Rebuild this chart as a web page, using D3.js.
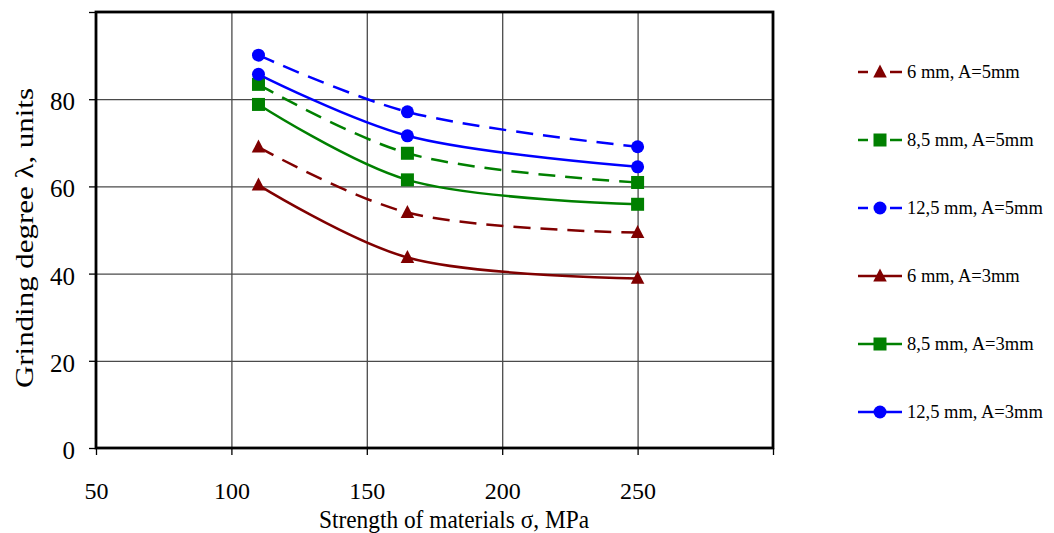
<!DOCTYPE html>
<html>
<head>
<meta charset="utf-8">
<script src="https://cdn.jsdelivr.net/npm/d3@7"></script>
<style>
  body { margin: 0; background: #fff; }
  svg text { font-family: "Liberation Serif", "Times New Roman", serif; fill: #000; }
</style>
</head>
<body>
<div id="chart"></div>
<script>
// Data
let strength = [110, 165, 250];
let seriesNames = ["6 mm, A=5mm", "8,5 mm, A=5mm", "12,5 mm, A=5mm",
                   "6 mm, A=3mm", "8,5 mm, A=3mm", "12,5 mm, A=3mm"];
let red5 = [69.0, 54.0, 49.4];
let green5 = [83.4, 67.6, 60.9];
let blue5 = [90.1, 77.1, 69.1];
let red3 = [60.3, 43.7, 38.9];
let green3 = [78.8, 61.5, 55.9];
let blue3 = [85.7, 71.6, 64.5];
let xTicks = [50, 100, 150, 200, 250];
let yTicks = [0, 20, 40, 60, 80];

// Svg defs
let w = 1054, h = 533;
let m = {left: 96, right: 281, top: 12, bottom: 85};

let series = [
  {name: seriesNames[0], values: red5,   color: "#800000", shape: "tri",    dash: true},
  {name: seriesNames[1], values: green5, color: "#008000", shape: "square", dash: true},
  {name: seriesNames[2], values: blue5,  color: "#0000ff", shape: "circle", dash: true},
  {name: seriesNames[3], values: red3,   color: "#800000", shape: "tri",    dash: false},
  {name: seriesNames[4], values: green3, color: "#008000", shape: "square", dash: false},
  {name: seriesNames[5], values: blue3,  color: "#0000ff", shape: "circle", dash: false}
];

let x = d3.scaleLinear().domain([50, 300]).range([m.left, w - m.right]);
let y = d3.scaleLinear().domain([0, 100]).range([h - m.bottom, m.top]);

let svg = d3.select("#chart").append("svg")
  .attr("width", w).attr("height", h)
  .attr("viewBox", [0, 0, w, h]);

// Grid
svg.append("g")
  .attr("transform", `translate(0,${h - m.bottom})`)
  .call(d3.axisBottom(x).tickValues(xTicks.slice(1)).tickSize(-(h - m.top - m.bottom)).tickFormat(""))
  .call(g => g.select(".domain").remove())
  .call(g => g.selectAll("line").attr("stroke", "#4a4a4a").attr("stroke-width", 1.3));

svg.append("g")
  .attr("transform", `translate(${m.left},0)`)
  .call(d3.axisLeft(y).tickValues(yTicks.slice(1)).tickSize(-(w - m.left - m.right)).tickFormat(""))
  .call(g => g.select(".domain").remove())
  .call(g => g.selectAll("line").attr("stroke", "#4a4a4a").attr("stroke-width", 1.3));

// Axes with labels
let yAxis = svg.append("g")
  .attr("transform", `translate(${m.left},0)`)
  .call(d3.axisLeft(y).tickValues(yTicks.concat([100])).tickSize(7).tickPadding(14)
    .tickFormat(d => d === 100 ? "" : d));
yAxis.select(".domain").remove();
yAxis.selectAll("line").attr("stroke", "#000").attr("stroke-width", 1.3);
yAxis.selectAll("text").style("font-size", "25px").attr("dy", "0.42em");

let xAxis = svg.append("g")
  .attr("transform", `translate(0,${h - m.bottom})`)
  .call(d3.axisBottom(x).tickValues(xTicks.concat([300])).tickSize(7).tickPadding(27)
    .tickFormat(d => d === 300 ? "" : d));
xAxis.select(".domain").remove();
xAxis.selectAll("line").attr("stroke", "#000").attr("stroke-width", 1.3);
xAxis.selectAll("text").style("font-size", "24px");

// Plot frame
svg.append("rect")
  .attr("x", m.left).attr("y", m.top)
  .attr("width", w - m.left - m.right).attr("height", h - m.top - m.bottom)
  .attr("fill", "none").attr("stroke", "#000").attr("stroke-width", 2.8);

// Axis titles
svg.append("text")
  .attr("x", 454).attr("y", 528)
  .attr("text-anchor", "middle")
  .style("font-size", "25px")
  .attr("textLength", 270).attr("lengthAdjust", "spacingAndGlyphs")
  .text("Strength of materials σ, MPa");

svg.append("text")
  .attr("transform", "translate(33,238) rotate(-90)")
  .attr("text-anchor", "middle")
  .style("font-size", "26px")
  .attr("textLength", 300).attr("lengthAdjust", "spacingAndGlyphs")
  .text("Grinding degree λ, units");

// Markers
function marker(sel, s, size) {
  if (s.shape === "circle") {
    sel.append("circle").attr("r", size / 2).attr("fill", s.color);
  } else if (s.shape === "square") {
    sel.append("rect").attr("x", -size / 2).attr("y", -size / 2)
      .attr("width", size).attr("height", size).attr("fill", s.color);
  } else {
    sel.append("path")
      .attr("d", `M0,${-size * 0.58} L${size * 0.52},${size * 0.42} L${-size * 0.52},${size * 0.42} Z`)
      .attr("fill", s.color);
  }
}

let line = d3.line()
  .x((d, i) => x(strength[i]))
  .y(d => y(d))
  .curve(d3.curveCatmullRom.alpha(0.5));

let plot = svg.append("g");
series.forEach(s => {
  plot.append("path")
    .attr("d", line(s.values))
    .attr("fill", "none")
    .attr("stroke", s.color)
    .attr("stroke-width", 2.5)
    .attr("stroke-dasharray", s.dash ? "17,10" : null);
  plot.append("g").selectAll("g")
    .data(s.values)
    .join("g")
    .attr("transform", (d, i) => `translate(${x(strength[i])},${y(d)})`)
    .each(function () { marker(d3.select(this), s, 13); });
});

// Legend
let legend = svg.append("g");
series.forEach((s, i) => {
  let g = legend.append("g").attr("transform", `translate(880,${72 + i * 68})`);
  if (s.dash) {
    g.append("line").attr("x1", -22).attr("x2", -12).attr("stroke", s.color).attr("stroke-width", 2.5);
    g.append("line").attr("x1", 10).attr("x2", 22).attr("stroke", s.color).attr("stroke-width", 2.5);
  } else {
    g.append("line").attr("x1", -22).attr("x2", 22).attr("stroke", s.color).attr("stroke-width", 2.5);
  }
  marker(g, s, 13);
  g.append("text").attr("x", 27).attr("dy", "0.35em")
    .style("font-size", "18.5px")
    .text(s.name);
});
</script>
</body>
</html>
